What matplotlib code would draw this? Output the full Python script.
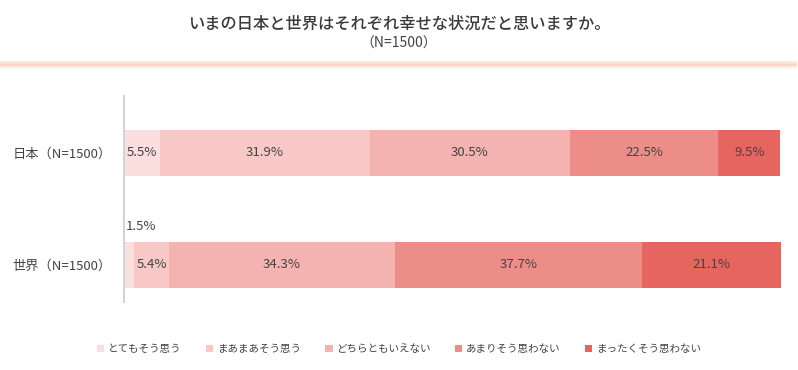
import matplotlib.pyplot as plt
import matplotlib.patches as patches
from matplotlib.lines import Line2D
import numpy as np

plt.rcParams['font.family'] = ['Noto Sans CJK JP', 'DejaVu Sans']

# data
groups = ['日本（N=1500）', '世界（N=1500）']
answers = ['とてもそう思う', 'まあまあそう思う', 'どちらともいえない', 'あまりそう思わない', 'まったくそう思わない']
japan = [5.5, 31.9, 30.5, 22.5, 9.5]
world = [1.5, 5.4, 34.3, 37.7, 21.1]
colors = ['#FBDFDF', '#F7C8C6', '#F4B3B1', '#ED8D87', '#E6655F']
txt = '#444444'

fig = plt.figure(figsize=(7.98, 3.70), dpi=100)
W, H = 798, 370
ax = fig.add_axes([124/W, 1-302/H, (781-124)/W, (302-96)/H])

ypos = [1, 0]
vals = [japan, world]
bh = 0.41
for y, row in zip(ypos, vals):
    left = 0
    for v, c in zip(row, colors):
        ax.barh(y, v, left=left, height=bh, color=c, edgecolor='none')
        if v < 3:
            ax.text(left + 0.3, y + bh/2 + 0.08, f'{v}%', ha='left', va='bottom',
                    fontsize=9.5, color=txt)
        else:
            ax.text(left + v/2, y, f'{v}%', ha='center', va='center',
                    fontsize=9.5, color=txt)
        left += v

ax.set_xlim(0, 100)
# y=0 at 265px, y=1 at 153px -> 112 px/unit
ax.set_ylim(-(302-265)/112, (265-96)/112)
for s in ['top', 'right', 'bottom']:
    ax.spines[s].set_visible(False)
ax.spines['left'].set_color('#D4D4D4')
ax.spines['left'].set_linewidth(1.5)
ax.set_xticks([])
ax.set_yticks(ypos)
ax.set_yticklabels(groups, fontsize=9.5, color=txt)
ax.tick_params(axis='y', length=0, pad=9)

# title
fig.text(0.5, 1-24/H, 'いまの日本と世界はそれぞれ幸せな状況だと思いますか。',
         ha='center', va='center', fontsize=11.7, color='#3a3a3a', fontweight='medium')
fig.text(0.5, 1-44/H, '（N=1500）', ha='center', va='center', fontsize=10, color=txt)

# header line
for yy, cc in [(62, '#FDE6D6'), (63.5, '#FDDCC8'), (65, '#FCD6C0'), (66.5, '#FDE9DD')]:
    fig.add_artist(Line2D([0, 796/W], [1-yy/H, 1-yy/H], color=cc, linewidth=1.3,
                          transform=fig.transFigure))

# legend
handles = [patches.Patch(facecolor=c, edgecolor='none') for c in colors]
fig.legend(handles, answers, loc='center', bbox_to_anchor=(0.5, 1-349/H), ncol=5,
           frameon=False, fontsize=7.6, handlelength=0.7, handleheight=0.7,
           handletextpad=0.35, columnspacing=2.3, labelcolor=txt)

fig.savefig('out.png', dpi=100)
